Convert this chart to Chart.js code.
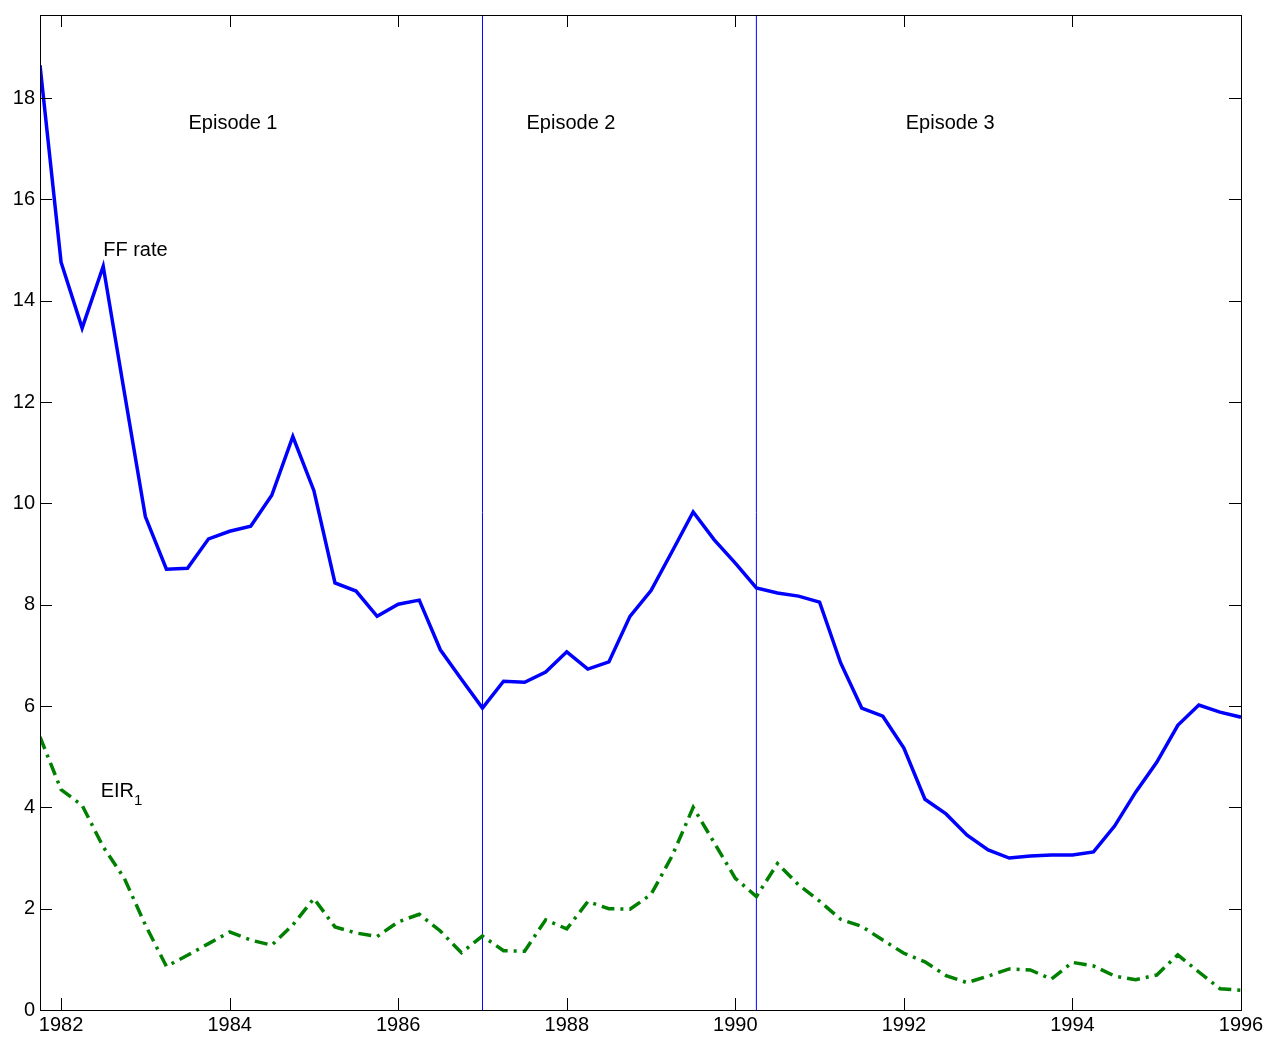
<!DOCTYPE html>
<html>
<head>
<meta charset="utf-8">
<script src="https://cdn.jsdelivr.net/npm/chart.js@4/dist/chart.umd.min.js"></script>
<style>
  html, body { margin: 0; padding: 0; background: #fff; }
  #wrap { width: 1268px; height: 1041px; }
</style>
</head>
<body>
<div id="wrap"><canvas id="c" width="1268" height="1041"></canvas></div>
<script>
// ---- data ----
const quarters = [1981.75, 1982, 1982.25, 1982.5, 1982.75, 1983, 1983.25, 1983.5, 1983.75,
  1984, 1984.25, 1984.5, 1984.75, 1985, 1985.25, 1985.5, 1985.75,
  1986, 1986.25, 1986.5, 1986.75, 1987, 1987.25, 1987.5, 1987.75,
  1988, 1988.25, 1988.5, 1988.75, 1989, 1989.25, 1989.5, 1989.75,
  1990, 1990.25, 1990.5, 1990.75, 1991, 1991.25, 1991.5, 1991.75,
  1992, 1992.25, 1992.5, 1992.75, 1993, 1993.25, 1993.5, 1993.75,
  1994, 1994.25, 1994.5, 1994.75, 1995, 1995.25, 1995.5, 1995.75, 1996];
const ffRate = [18.65, 14.76, 13.46, 14.68, 12.2, 9.74, 8.70, 8.72, 9.30, 9.45, 9.55, 10.16,
  11.32, 10.25, 8.43, 8.27, 7.77, 8.01, 8.09, 7.11, 6.53, 5.96, 6.49, 6.47, 6.67, 7.07,
  6.73, 6.87, 7.77, 8.28, 9.05, 9.83, 9.28, 8.82, 8.33, 8.23, 8.17, 8.05, 6.85, 5.96,
  5.80, 5.17, 4.16, 3.87, 3.45, 3.16, 3.00, 3.04, 3.06, 3.06, 3.12, 3.63, 4.30, 4.89,
  5.62, 6.02, 5.88, 5.78];
const eir1 = [5.39, 4.35, 4.04, 3.22, 2.6, 1.68, 0.86, 1.08, 1.31, 1.54, 1.38, 1.28, 1.68,
  2.2, 1.64, 1.52, 1.45, 1.74, 1.89, 1.56, 1.13, 1.46, 1.17, 1.16, 1.78, 1.60, 2.14, 2.0,
  1.99, 2.28, 3.04, 4.0, 3.3, 2.6, 2.24, 2.89, 2.47, 2.15, 1.79, 1.65, 1.38, 1.12, 0.95,
  0.68, 0.54, 0.67, 0.81, 0.79, 0.61, 0.94, 0.87, 0.67, 0.60, 0.69, 1.09, 0.75, 0.42, 0.39];
const episodeBreaks = [1987, 1990.25];
const xTicks = [1982, 1984, 1986, 1988, 1990, 1992, 1994, 1996];
const yTicks = [0, 2, 4, 6, 8, 10, 12, 14, 16, 18];
const xRange = [1981.75, 1996];
const yRange = [0, 19.64];
const labelTexts = ['Episode 1', 'Episode 2', 'Episode 3', 'FF rate', 'EIR'];
const labelX = [1984.04, 1988.05, 1992.55, 1982.5, 1982.47];
const labelY = [17.5, 17.5, 17.5, 15.0, 4.32];

// ---- chart ----
const FONT = '"Liberation Sans", Arial, sans-serif';

const series = (ys) => quarters.map((x, i) => ({ x: x, y: ys[i] }));
const breakDatasets = episodeBreaks.map(b => ({
  data: [{ x: b, y: yRange[0] }, { x: b, y: yRange[1] }],
  borderColor: '#0000ff', borderWidth: 1, pointRadius: 0, tension: 0
}));

const framePlugin = {
  id: 'frame',
  afterDatasetsDraw(chart) {
    const { ctx, chartArea: a, scales } = chart;
    const tl = 12;
    ctx.save();
    ctx.strokeStyle = '#000';
    ctx.lineWidth = 1;
    ctx.beginPath();
    scales.x.ticks.forEach(t => {
      const px = Math.round(scales.x.getPixelForValue(t.value)) + 0.5;
      ctx.moveTo(px, a.bottom); ctx.lineTo(px, a.bottom - tl);
      ctx.moveTo(px, a.top); ctx.lineTo(px, a.top + tl);
    });
    scales.y.ticks.forEach(t => {
      const py = Math.round(scales.y.getPixelForValue(t.value)) + 0.5;
      ctx.moveTo(a.left, py); ctx.lineTo(a.left + tl, py);
      ctx.moveTo(a.right, py); ctx.lineTo(a.right - tl, py);
    });
    ctx.stroke();
    ctx.strokeRect(Math.round(a.left) + 0.5, Math.round(a.top) + 0.5,
      Math.round(a.right - a.left), Math.round(a.bottom - a.top));
    // text annotations
    ctx.fillStyle = '#000';
    ctx.textBaseline = 'middle';
    labelTexts.forEach((txt, i) => {
      const px = scales.x.getPixelForValue(labelX[i]);
      const py = scales.y.getPixelForValue(labelY[i]);
      ctx.font = '20px ' + FONT;
      if (i < 3) {
        ctx.textAlign = 'center';
        ctx.fillText(txt, px, py);
      } else {
        ctx.textAlign = 'left';
        ctx.fillText(txt, px, py);
        if (txt === 'EIR') {
          const w = ctx.measureText(txt).width;
          ctx.font = '15px ' + FONT;
          ctx.fillText('1', px + w, py + 10);
        }
      }
    });
    ctx.restore();
  }
};

new Chart(document.getElementById('c'), {
  type: 'line',
  data: {
    datasets: [
      { label: 'FF rate', data: series(ffRate), borderColor: '#0000ff', borderWidth: 3.5,
        pointRadius: 0, tension: 0, borderJoinStyle: 'miter' },
      { label: 'EIR1', data: series(eir1), borderColor: '#008000', borderWidth: 3.5,
        borderDash: [13, 6, 3, 6], pointRadius: 0, tension: 0 },
      ...breakDatasets
    ]
  },
  options: {
    responsive: false,
    animation: false,
    events: [],
    layout: { padding: { top: 15, right: 27, left: 0, bottom: 0 } },
    plugins: { legend: { display: false }, tooltip: { enabled: false } },
    scales: {
      x: {
        type: 'linear', min: xRange[0], max: xRange[1],
        grid: { display: false, drawTicks: false }, border: { display: false },
        afterBuildTicks: s => { s.ticks = xTicks.map(v => ({ value: v })); },
        afterFit: s => { s.height = 31; },
        ticks: { color: '#000', font: { family: FONT, size: 20 }, padding: 3,
          maxRotation: 0, autoSkip: false, callback: v => String(v) }
      },
      y: {
        type: 'linear', min: yRange[0], max: yRange[1],
        grid: { display: false, drawTicks: false }, border: { display: false },
        afterBuildTicks: s => { s.ticks = yTicks.map(v => ({ value: v })); },
        afterFit: s => { s.width = 40; s.paddingTop = 0; s.paddingBottom = 0; },
        ticks: { color: '#000', font: { family: FONT, size: 20 }, padding: 5,
          autoSkip: false, callback: v => String(v) }
      }
    }
  },
  plugins: [framePlugin]
});
</script>
</body>
</html>
